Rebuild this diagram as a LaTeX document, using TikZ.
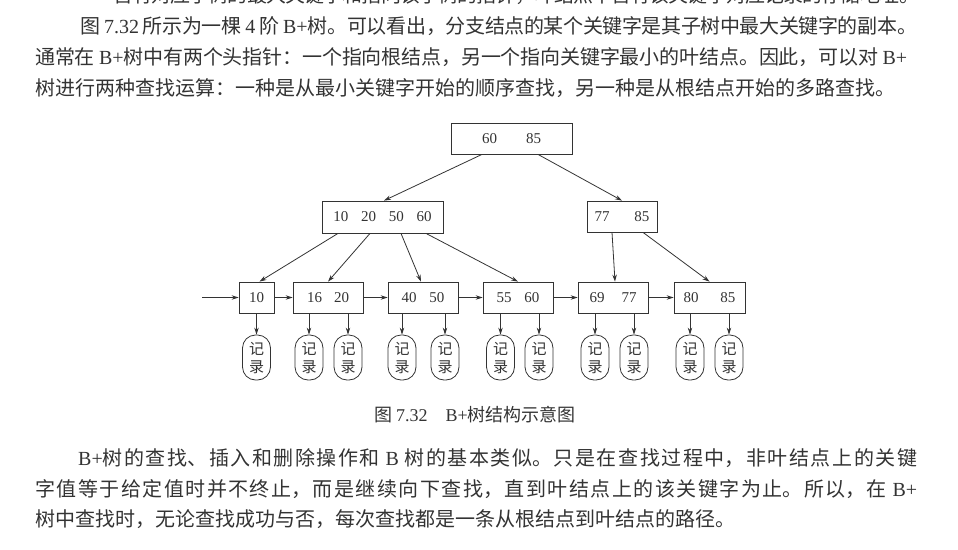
\documentclass[tikz,border=0pt]{standalone}
\usepackage{fontspec}
\setmainfont{Liberation Serif}
\newfontfamily\cjk{Noto Sans CJK SC}
\usetikzlibrary{arrows.meta,positioning}
\XeTeXlinebreaklocale "zh"
\XeTeXlinebreakskip=0pt plus 3pt minus 1pt
\definecolor{encre}{HTML}{333333}
\newcommand\lat[1]{{\rmfamily #1}}
\newcommand\ligne[2]{\parbox{#1}{\parfillskip=0pt\relax #2}}
\tikzset{
  cle/.style={draw=encre, line width=0.8pt, inner sep=0pt, minimum height=31pt,
    font=\fontsize{15}{15}\selectfont, text=encre},
  fleche/.style={draw=encre, line width=0.8pt, -{Stealth[length=7pt,width=4.5pt]}},
  enreg/.style={draw=encre, line width=0.8pt, rounded corners=13pt, minimum width=28pt,
    minimum height=45pt, inner sep=0pt, align=center,
    font=\cjk\fontsize{15}{18}\selectfont, text=encre},
  texte/.style={anchor=west, inner sep=0pt, text=encre, font=\cjk\fontsize{20}{20}\selectfont},
}
\begin{document}
\begin{tikzpicture}[x=1pt,y=-1pt]
  \useasboundingbox (0,0) rectangle (958,549);
  %texte au-dessus
  \node[texte] (l0) at (113,-5) {\ligne{806pt}{含有对应子树的最大关键字和指向该子树的指针，叶结点中含有该关键字对应记录的存储地址。}};
  \node[texte] (l1) at (80,26) {\ligne{837pt}{图 \lat{7.32} 所示为一棵 \lat{4} 阶 \lat{B+}树。可以看出，分支结点的某个关键字是其子树中最大关键字的副本。}};
  \node[texte] (l2) at (35,57) {\ligne{872pt}{通常在 \lat{B+}树中有两个头指针：一个指向根结点，另一个指向关键字最小的叶结点。因此，可以对 \lat{B+}}};
  \node[texte] (l3) at (35,88) {树进行两种查找运算：一种是从最小关键字开始的顺序查找，另一种是从根结点开始的多路查找。};
  %racine et noeuds internes
  \node[cle, minimum width=121pt] (racine) at (511.5,138.5) {60\hspace{29pt}85};
  \node[cle, minimum width=121pt, minimum height=32pt] (ng) at (382.5,217) {10\hspace{12.7pt}20\hspace{12.7pt}50\hspace{12.7pt}60};
  \node[cle, minimum width=70pt] (nd) at (622,216.5) {77\hspace{25pt}85};
  %feuilles
  \foreach \nom/\x/\w/\t in {f1/256.5/35/10, f2/328/70/16\hspace{12pt}20, f3/423/70/40\hspace{13pt}50,
      f4/518/70/55\hspace{13pt}60, f5/613/70/69\hspace{17pt}77, f6/709.5/71/80\hspace{22pt}85}
    \node[cle, minimum width=\w pt] (\nom) at (\x,297.5) {\t};
  %liens de l'arbre
  \draw[fleche] ([xshift=-29.5pt]racine.south) -- ([xshift=1.5pt]ng.north);
  \draw[fleche] ([xshift=26.5pt]racine.south) -- (nd.north);
  \draw[fleche] ([xshift=-44.5pt]ng.south) -- ([xshift=3pt]f1.north);
  \draw[fleche] ([xshift=-12.5pt]ng.south) -- (f2.north);
  \draw[fleche] ([xshift=18.5pt]ng.south) -- ([xshift=-2pt]f3.north);
  \draw[fleche] ([xshift=43.5pt]ng.south) -- (f4.north);
  \draw[fleche] ([xshift=-10pt]nd.south) -- ([xshift=2pt]f5.north);
  \draw[fleche] ([xshift=21pt]nd.south) -- (f6.north);
  %chaine des feuilles
  \coordinate (entree) at (202,297.5);
  \draw[fleche] (entree) -- (f1);
  \foreach \a/\b in {f1/f2, f2/f3, f3/f4, f4/f5, f5/f6}
    \draw[fleche] (\a) -- (\b);
  %enregistrements
  \foreach \x/\f [count=\i] in {256.5/f1, 309/f2, 348/f2, 402/f3, 445/f3, 500.5/f4, 539/f4,
      595/f5, 634/f5, 690/f6, 729/f6} {
    \node[enreg] (e\i) at (\x,357.5) {记\\录};
    \draw[fleche] (e\i.north |- \f.south) -- (e\i.north);
  }
  %legende
  \node[text=encre, font=\cjk\fontsize{18}{18}\selectfont] (titre) at (475,415) {图 \lat{7.32}\quad\lat{B+}树结构示意图};
  %texte au-dessous
  \node[texte] (l4) at (78,458) {\ligne{839pt}{\lat{B+}树的查找、插入和删除操作和 \lat{B} 树的基本类似。只是在查找过程中，非叶结点上的关键}};
  \node[texte] (l5) at (35,489) {\ligne{882pt}{字值等于给定值时并不终止，而是继续向下查找，直到叶结点上的该关键字为止。所以，在 \lat{B+}}};
  \node[texte] (l6) at (35,519) {树中查找时，无论查找成功与否，每次查找都是一条从根结点到叶结点的路径。};
\end{tikzpicture}
\end{document}
